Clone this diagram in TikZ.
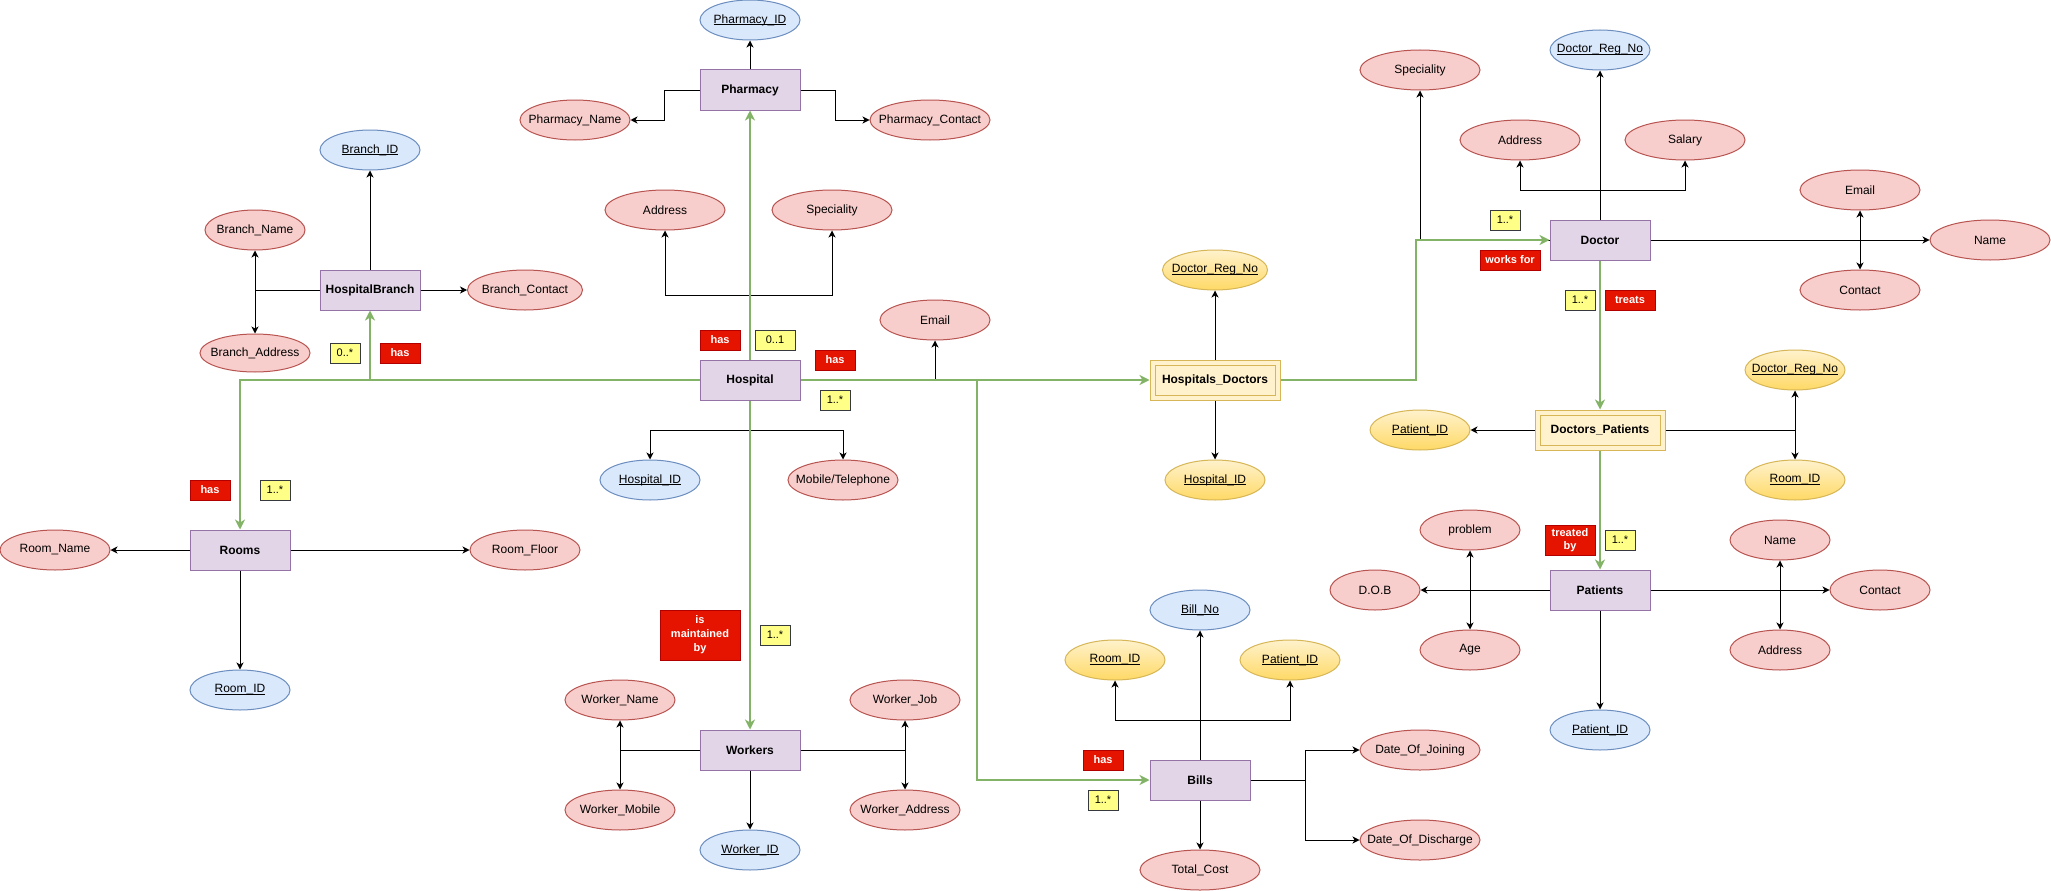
\documentclass[tikz,border=0pt]{standalone}
\usepackage{fontspec}
\setmainfont{Liberation Sans}
\usetikzlibrary{shapes.geometric,arrows.meta}

\definecolor{entF}{HTML}{E1D5E7}\definecolor{entS}{HTML}{9673A6}
\definecolor{redF}{HTML}{F8CECC}\definecolor{redS}{HTML}{B85450}
\definecolor{bluF}{HTML}{DAE8FC}\definecolor{bluS}{HTML}{6C8EBF}
\definecolor{yelF}{HTML}{FFF2CC}\definecolor{yelB}{HTML}{FFD966}\definecolor{yelS}{HTML}{D6B656}
\definecolor{relF}{HTML}{E51400}\definecolor{relS}{HTML}{B20000}
\definecolor{cardF}{HTML}{FFFF88}\definecolor{cardS}{HTML}{36393D}
\definecolor{grn}{HTML}{82B366}

% attribute texts are centred without widening the ellipse
\newcommand{\nm}[1]{\makebox[0pt]{#1}}
% key attributes: underline drawn just below the baseline, through the underscores
\newcommand{\pk}[1]{\makebox[0pt]{\setbox0\hbox{#1}\rlap{\rule[-2pt]{\wd0}{0.8pt}}\box0}}

\tikzset{
  entity/.style={rectangle, draw=entS, fill=entF, line width=1pt,
    minimum width=100pt, minimum height=40pt, inner sep=0pt,
    font=\fontsize{12}{14}\selectfont\bfseries},
  weakent/.style={rectangle, draw=yelS, fill=yelF, line width=1pt,
    minimum width=130pt, minimum height=40pt, inner sep=0pt,
    font=\fontsize{12}{14}\selectfont\bfseries,
    path picture={\draw[yelS, line width=1pt]
      ([shift={(5pt,5pt)}]path picture bounding box.south west) rectangle
      ([shift={(-5pt,-5pt)}]path picture bounding box.north east);}},
  attrib/.style={ellipse, draw=redS, fill=redF, line width=1pt,
    minimum width=#1, minimum height=40pt, inner sep=0pt,
    font=\fontsize{12}{14}\selectfont},
  attrib/.default=110pt,
  pkey/.style={ellipse, draw=bluS, fill=bluF, line width=1pt,
    minimum width=#1, minimum height=40pt, inner sep=0pt,
    font=\fontsize{12}{14}\selectfont},
  pkey/.default=100pt,
  fkey/.style={ellipse, draw=yelS, top color=yelF, bottom color=yelB, line width=1pt,
    minimum width=#1, minimum height=40pt, inner sep=0pt,
    font=\fontsize{12}{14}\selectfont},
  fkey/.default=100pt,
  relbox/.style={rectangle, draw=relS, fill=relF, text=white, line width=1pt,
    minimum width=#1, minimum height=20pt, inner sep=0pt, align=center,
    font=\fontsize{11}{14}\selectfont\bfseries},
  relbox/.default=40pt,
  cardbox/.style={rectangle, draw=cardS, fill=cardF, line width=1pt,
    minimum width=#1, minimum height=20pt, inner sep=0pt,
    font=\fontsize{11}{13}\selectfont},
  cardbox/.default=30pt,
  attline/.style={draw=black, line width=1pt, -{Stealth[length=7pt,width=7pt,inset=2pt]}},
  plainline/.style={draw=black, line width=1pt},
  linkline/.style={draw=grn, line width=2pt, -{Stealth[length=10pt,width=10pt,inset=3pt]}},
}

\begin{document}
\begin{tikzpicture}[x=1pt,y=-1pt]
\fill[white] (0,0) rectangle (2051,891);
\useasboundingbox (0,0) rectangle (2051,891);

% ---------- entities ----------
\node[entity] (HB) at (370,290) {HospitalBranch};
\node[entity] (Rooms) at (240,550) {Rooms};
\node[entity] (Hosp) at (750,380) {Hospital};
\node[entity] (Phar) at (750,90) {Pharmacy};
\node[entity] (Work) at (750,750) {Workers};
\node[entity] (Bills) at (1200,780) {Bills};
\node[entity] (Doc) at (1600,240) {Doctor};
\node[entity] (Pat) at (1600,590) {Patients};
\node[weakent] (HD) at (1215,380) {Hospitals\_Doctors};
\node[weakent] (DP) at (1600,430) {Doctors\_Patients};

% ---------- HospitalBranch attributes ----------
\node[pkey] (BID) at (370,150) {\pk{Branch\_ID}};
\node[attrib=100pt] (BName) at (255,230) {\nm{Branch\_Name}};
\node[attrib, minimum height=38pt] (BAddr) at (255,353) {\nm{Branch\_Address}};
\node[attrib=115pt] (BContact) at (525,290) {\nm{Branch\_Contact}};

% ---------- Rooms attributes ----------
\node[attrib] (RName) at (55,550) {\nm{Room\_Name}};
\node[attrib] (RFloor) at (525,550) {\nm{Room\_Floor}};
\node[pkey] (RID) at (240,690) {\pk{Room\_ID}};

% ---------- Pharmacy attributes ----------
\node[pkey] (PID) at (750,20) {\pk{Pharmacy\_ID}};
\node[attrib] (PName) at (575,120) {\nm{Pharmacy\_Name}};
\node[attrib=120pt] (PContact) at (930,120) {\nm{Pharmacy\_Contact}};

% ---------- Hospital attributes ----------
\node[attrib=120pt] (HAddr) at (665,210) {\nm{Address}};
\node[attrib=120pt] (HSpec) at (832,210) {\nm{Speciality}};
\node[attrib] (HEmail) at (935,320) {\nm{Email}};
\node[pkey] (HID) at (650,480) {\pk{Hospital\_ID}};
\node[attrib] (HMob) at (843,480) {\nm{Mobile/Telephone}};

% ---------- Workers attributes ----------
\node[attrib] (WName) at (620,700) {\nm{Worker\_Name}};
\node[attrib] (WMob) at (620,810) {\nm{Worker\_Mobile}};
\node[attrib] (WJob) at (905,700) {\nm{Worker\_Job}};
\node[attrib] (WAddr) at (905,810) {\nm{Worker\_Address}};
\node[pkey] (WID) at (750,850) {\pk{Worker\_ID}};

% ---------- Bills attributes ----------
\node[pkey] (BillNo) at (1200,610) {\pk{Bill\_No}};
\node[fkey] (BRoom) at (1115,660) {\pk{Room\_ID}};
\node[fkey] (BPat) at (1290,660) {\pk{Patient\_ID}};
\node[attrib=120pt] (DJoin) at (1420,750) {\nm{Date\_Of\_Joining}};
\node[attrib=120pt] (DDis) at (1420,840) {\nm{Date\_Of\_Discharge}};
\node[attrib=120pt] (TCost) at (1200,870) {\nm{Total\_Cost}};

% ---------- Hospitals_Doctors keys ----------
\node[fkey=105pt] (HDReg) at (1215,270) {\pk{Doctor\_Reg\_No}};
\node[fkey] (HDHosp) at (1215,480) {\pk{Hospital\_ID}};

% ---------- Doctor attributes ----------
\node[pkey] (DReg) at (1600,50) {\pk{Doctor\_Reg\_No}};
\node[attrib=120pt] (DSpec) at (1420,70) {\nm{Speciality}};
\node[attrib=120pt] (DAddr) at (1520,140) {\nm{Address}};
\node[attrib=120pt] (DSal) at (1685,140) {\nm{Salary}};
\node[attrib=120pt] (DEmail) at (1860,190) {\nm{Email}};
\node[attrib=120pt] (DContact) at (1860,290) {\nm{Contact}};
\node[attrib=120pt] (DName) at (1990,240) {\nm{Name}};

% ---------- Doctors_Patients keys ----------
\node[fkey] (DPPat) at (1420,430) {\pk{Patient\_ID}};
\node[fkey] (DPReg) at (1795,370) {\pk{Doctor\_Reg\_No}};
\node[fkey] (DPRoom) at (1795,480) {\pk{Room\_ID}};

% ---------- Patients attributes ----------
\node[attrib=90pt] (PDOB) at (1375,590) {\nm{D.O.B}};
\node[attrib=100pt] (PProb) at (1470,530) {\nm{problem}};
\node[attrib=100pt] (PAge) at (1470,650) {\nm{Age}};
\node[attrib=100pt] (PName2) at (1780,540) {\nm{Name}};
\node[attrib=100pt] (PAddr) at (1780,650) {\nm{Address}};
\node[attrib=100pt] (PContact2) at (1880,590) {\nm{Contact}};
\node[pkey] (PatID) at (1600,730) {\pk{Patient\_ID}};

% ---------- relationship and cardinality labels ----------
\node[relbox] (r1) at (720,340) {has};
\node[cardbox=40pt] (c1) at (775,340) {0..1};
\node[relbox] (r2) at (835,360) {has};
\node[cardbox] (c2) at (835,400) {1..*};
\node[cardbox] (c3) at (345,353) {0..*};
\node[relbox] (r3) at (400,353) {has};
\node[relbox] (r4) at (210,490) {has};
\node[cardbox] (c4) at (275,490) {1..*};
\node[relbox=80pt, minimum height=50pt] (r5) at (700,635) {is\\maintained\\by};
\node[cardbox] (c5) at (775,635) {1..*};
\node[relbox] (r6) at (1103,760) {has};
\node[cardbox] (c6) at (1103,800) {1..*};
\node[cardbox] (c7) at (1505,220) {1..*};
\node[relbox=60pt] (r7) at (1510,260) {works for};
\node[cardbox] (c8) at (1580,300) {1..*};
\node[relbox=50pt] (r8) at (1630,300) {treats};
\node[relbox=50pt, minimum height=30pt, font=\fontsize{11}{13}\selectfont\bfseries] (r9) at (1570,540) {treated\\by};
\node[cardbox] (c9) at (1620,540) {1..*};

% ---------- junction points ----------
\coordinate (bj) at (255,290);
\coordinate (hj) at (750,295);
\coordinate (hj2) at (750,430);
\coordinate (wj1) at (620,750);
\coordinate (wj2) at (905,750);
\coordinate (bj2) at (1200,720);
\coordinate (bj3) at (1305,780);
\coordinate (dj1) at (1600,190);
\coordinate (dj2) at (1860,240);
\coordinate (dpj) at (1795,430);
\coordinate (pj1) at (1470,590);
\coordinate (pj2) at (1780,590);

% ---------- attribute connectors ----------
\draw[attline] (HB.north) -- (BID.south);
\draw[plainline] (HB.west) -- (bj);
\draw[attline] (bj) -- (BName.south);
\draw[attline] (bj) -- (BAddr.north);
\draw[attline] (HB.east) -- (BContact.west);

\draw[attline] (Rooms.west) -- (RName.east);
\draw[attline] (Rooms.east) -- (RFloor.west);
\draw[attline] (Rooms.south) -- (RID.north);

\draw[attline] (Phar.north) -- (PID.south);
\draw[attline] (Phar.west) -- ++(-35,0) |- (PName.east);
\draw[attline] (Phar.east) -- ++(35,0) |- (PContact.west);

\draw[plainline] (Hosp.north) -- (hj);
\draw[attline] (hj) -| (HAddr.south);
\draw[attline] (hj) -| (HSpec.south);
\draw[attline] (Hosp.east) -| (HEmail.south);
\draw[plainline] (Hosp.south) -- (hj2);
\draw[attline] (hj2) -| (HID.north);
\draw[attline] (hj2) -| (HMob.north);

\draw[plainline] (Work.west) -- (wj1);
\draw[attline] (wj1) -- (WName.south);
\draw[attline] (wj1) -- (WMob.north);
\draw[plainline] (Work.east) -- (wj2);
\draw[attline] (wj2) -- (WJob.south);
\draw[attline] (wj2) -- (WAddr.north);
\draw[attline] (Work.south) -- (WID.north);

\draw[attline] (Bills.north) -- (BillNo.south);
\draw[attline] (bj2) -| (BRoom.south);
\draw[attline] (bj2) -| (BPat.south);
\draw[plainline] (Bills.east) -- (bj3);
\draw[attline] (bj3) |- (DJoin.west);
\draw[attline] (bj3) |- (DDis.west);
\draw[attline] (Bills.south) -- (TCost.north);

\draw[attline] (HD.north) -- (HDReg.south);
\draw[attline] (HD.south) -- (HDHosp.north);

\draw[attline] (Doc.north) -- (DReg.south);
\draw[attline] (dj1) -| (DAddr.south);
\draw[attline] (dj1) -| (DSal.south);
\draw[attline] (Doc.west) -| (DSpec.south);
\draw[attline] (Doc.east) -- (DName.west);
\draw[attline] (dj2) -- (DEmail.south);
\draw[attline] (dj2) -- (DContact.north);

\draw[attline] (DP.west) -- (DPPat.east);
\draw[plainline] (DP.east) -- (dpj);
\draw[attline] (dpj) -- (DPReg.south);
\draw[attline] (dpj) -- (DPRoom.north);

\draw[attline] (Pat.west) -- (PDOB.east);
\draw[attline] (pj1) -- (PProb.south);
\draw[attline] (pj1) -- (PAge.north);
\draw[attline] (Pat.east) -- (PContact2.west);
\draw[attline] (pj2) -- (PName2.south);
\draw[attline] (pj2) -- (PAddr.north);
\draw[attline] (Pat.south) -- (PatID.north);

% ---------- relationship links ----------
\draw[linkline] (Hosp.west) -| (HB.south);
\draw[linkline] (Hosp.west) -| (Rooms.north);
\draw[linkline] (Hosp.north) -- (Phar.south);
\draw[linkline] (Hosp.south) -- (Work.north);
\draw[linkline] (Hosp.east) -- (HD.west);
\draw[linkline] (Hosp.east) -- ++(176,0) |- (Bills.west);
\draw[linkline] (HD.east) -- ++(135,0) |- (Doc.west);
\draw[linkline] (Doc.south) -- (DP.north);
\draw[linkline] (DP.south) -- (Pat.north);
\end{tikzpicture}
\end{document}
